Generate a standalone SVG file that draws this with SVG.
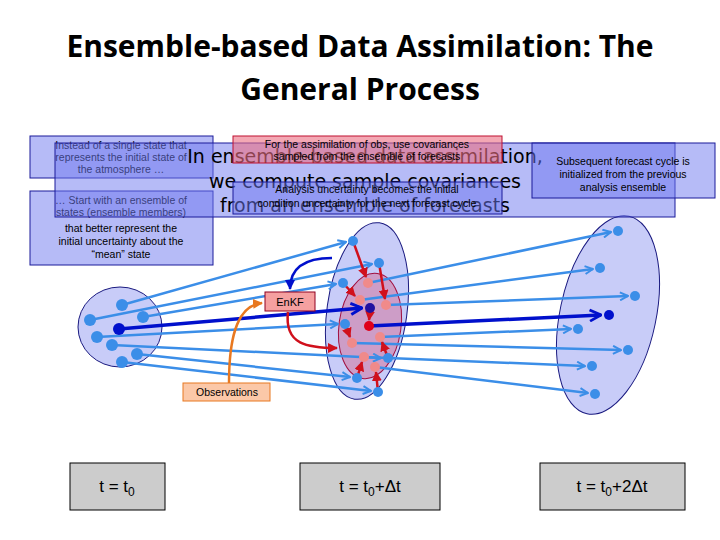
<svg xmlns="http://www.w3.org/2000/svg" width="720" height="540" viewBox="0 0 720 540">
<style>
text{font-family:"Liberation Sans",sans-serif;fill:#000}
.box{fill:rgba(110,120,240,0.5);stroke:#1a1a9a;stroke-width:1}
.sm{font-size:10.5px;text-anchor:middle}
.lb{stroke:#3b8ee8;stroke-width:2.5;fill:none;marker-end:url(#ch)}
.rd{stroke:#d0101c;stroke-width:2.5;fill:none;marker-end:url(#rh)}
.pt{fill:#3b8ee8}
.pk{fill:#f08a8a}
.tb{fill:#ccc;stroke:#000;stroke-width:1}
.tt{font-size:17px;text-anchor:middle}
.big{font-family:"DejaVu Sans",sans-serif;font-size:19px;text-anchor:middle}
</style>
<defs>
<marker id="ch" viewBox="0 0 10 10" refX="9" refY="5" markerWidth="4" markerHeight="4" orient="auto" markerUnits="strokeWidth"><path d="M1,1 L9,5 L1,9" fill="none" stroke="#3b8ee8" stroke-width="2"/></marker>
<marker id="dh" viewBox="0 0 10 10" refX="9" refY="5" markerWidth="4" markerHeight="4" orient="auto" markerUnits="strokeWidth"><path d="M1,1 L9,5 L1,9" fill="none" stroke="#0010cc" stroke-width="2"/></marker>
<marker id="rh" viewBox="0 0 10 10" refX="9" refY="5" markerWidth="4" markerHeight="4" orient="auto" markerUnits="strokeWidth"><path d="M0,0 L10,5 L0,10 z" fill="#d0101c"/></marker>
<marker id="bh" viewBox="0 0 10 10" refX="9" refY="5" markerWidth="4" markerHeight="4" orient="auto" markerUnits="strokeWidth"><path d="M0,0 L10,5 L0,10 z" fill="#0010cc"/></marker>
<marker id="oh" viewBox="0 0 10 10" refX="9" refY="5" markerWidth="4" markerHeight="4" orient="auto" markerUnits="strokeWidth"><path d="M0,0 L10,5 L0,10 z" fill="#e87820"/></marker>
</defs>
<g id="title"><text x="360" y="57" font-size="30" font-weight="bold" text-anchor="middle" style="font-family:'Open Sans','Liberation Sans',sans-serif">Ensemble-based Data Assimilation: The</text><text x="360" y="100" font-size="30" font-weight="bold" text-anchor="middle" style="font-family:'Open Sans','Liberation Sans',sans-serif">General Process</text></g>
<g id="ens0"><ellipse cx="120" cy="327" rx="42" ry="40" fill="#c8ccf8" stroke="#1a1a80"/></g>
<g id="ens1"><ellipse cx="367" cy="311" rx="40" ry="89" transform="rotate(8 367 311)" fill="#c8ccf8" stroke="#1a1a80"/><ellipse cx="370" cy="326" rx="31" ry="53" transform="rotate(8 370 326)" fill="rgba(210,100,140,0.45)" stroke="#a01040"/></g>
<g id="ens2"><ellipse cx="608" cy="315" rx="48" ry="101" transform="rotate(12 608 315)" fill="#c8ccf8" stroke="#1a1a80"/></g>
<g id="connectors">
<line class="lb" x1="122" y1="305" x2="346" y2="242"/>
<line class="lb" x1="90" y1="320" x2="372" y2="264"/>
<line class="lb" x1="143" y1="317" x2="336" y2="284"/>
<line class="lb" x1="97" y1="337" x2="338" y2="324"/>
<line class="lb" x1="112" y1="345" x2="381" y2="358"/>
<line class="lb" x1="137" y1="354" x2="350" y2="377"/>
<line class="lb" x1="122" y1="362" x2="371" y2="391"/>
<line x1="119" y1="329" x2="362" y2="308" stroke="#0010cc" stroke-width="3.5" marker-end="url(#dh)"/>
<line class="lb" x1="368" y1="283" x2="611" y2="232"/>
<line class="lb" x1="360" y1="300" x2="593" y2="269"/>
<line class="lb" x1="386" y1="305" x2="628" y2="296"/>
<line class="lb" x1="380" y1="337" x2="571" y2="329"/>
<line class="lb" x1="352" y1="343" x2="621" y2="350"/>
<line class="lb" x1="364" y1="357" x2="585" y2="366"/>
<line class="lb" x1="375" y1="367" x2="588" y2="393"/>
<line x1="369" y1="326" x2="601" y2="315" stroke="#0010cc" stroke-width="3.5" marker-end="url(#dh)"/>
<line class="rd" x1="353" y1="241" x2="366" y2="277"/>
<line class="rd" x1="379" y1="263" x2="385" y2="299"/>
<line class="rd" x1="343" y1="283" x2="355" y2="296"/>
<line class="rd" x1="345" y1="324" x2="350" y2="337"/>
<line class="rd" x1="388" y1="358" x2="382" y2="342"/>
<line class="rd" x1="357" y1="378" x2="362" y2="362"/>
<line class="rd" x1="378" y1="392" x2="376" y2="372"/>
<line class="rd" x1="370" y1="312" x2="369" y2="320"/>
<path d="M332,258 C305,258 290,268 290,289" stroke="#0010cc" stroke-width="2.5" fill="none" marker-end="url(#bh)"/>
<path d="M288,312 C284,345 308,348 337,348" stroke="#d0101c" stroke-width="2.5" fill="none" marker-end="url(#rh)"/>
<path d="M229,383 C229,330 240,305 262,303" stroke="#e87820" stroke-width="2.5" fill="none" marker-end="url(#oh)"/>
</g>
<g id="points">
<circle class="pt" cx="122" cy="305" r="6"/><circle class="pt" cx="90" cy="320" r="6"/><circle class="pt" cx="143" cy="317" r="6"/><circle class="pt" cx="97" cy="337" r="6"/><circle class="pt" cx="112" cy="345" r="6"/><circle class="pt" cx="137" cy="354" r="6"/><circle class="pt" cx="122" cy="362" r="6"/><circle cx="119" cy="329" r="6" fill="#0010cc"/>
<circle class="pt" cx="353" cy="241" r="5"/><circle class="pt" cx="379" cy="263" r="5"/><circle class="pt" cx="343" cy="283" r="5"/><circle class="pt" cx="345" cy="324" r="5"/><circle class="pt" cx="388" cy="358" r="5"/><circle class="pt" cx="357" cy="378" r="5"/><circle class="pt" cx="378" cy="392" r="5"/><circle cx="370" cy="308" r="5" fill="#2010a0"/>
<circle class="pk" cx="368" cy="283" r="5"/><circle class="pk" cx="360" cy="300" r="5"/><circle class="pk" cx="386" cy="305" r="5"/><circle class="pk" cx="380" cy="337" r="5"/><circle class="pk" cx="352" cy="343" r="5"/><circle class="pk" cx="364" cy="357" r="5"/><circle class="pk" cx="375" cy="367" r="5"/><circle cx="369" cy="326" r="5" fill="#e0001a"/>
<circle class="pt" cx="618" cy="231" r="5"/><circle class="pt" cx="600" cy="268" r="5"/><circle class="pt" cx="635" cy="296" r="5"/><circle class="pt" cx="578" cy="329" r="5"/><circle class="pt" cx="628" cy="350" r="5"/><circle class="pt" cx="592" cy="366" r="5"/><circle class="pt" cx="595" cy="394" r="5"/><circle cx="609" cy="315" r="5" fill="#0010cc"/>
</g>
<g id="enkf"><rect x="265" y="292" width="50" height="19" fill="#f5a0a0" stroke="#900020"/><text x="290" y="306" font-size="11" text-anchor="middle">EnKF</text></g>
<g id="obs"><rect x="183" y="383" width="87" height="18" fill="#fbc8a8" stroke="#e87820"/><text x="227" y="396" class="sm">Observations</text></g>
<g id="b1"><rect class="box" x="30" y="136" width="183" height="42"/><text class="sm" x="121" y="149">Instead of a single state that</text><text class="sm" x="121" y="161">represents the initial state of</text><text class="sm" x="121" y="173">the atmosphere …</text></g>
<g id="b2"><rect class="box" x="30" y="191" width="183" height="74"/><text class="sm" x="121" y="204">… Start with an ensemble of</text><text class="sm" x="121" y="216">states (ensemble members)</text><text class="sm" x="121" y="232">that better represent the</text><text class="sm" x="121" y="245">initial uncertainty about the</text><text class="sm" x="121" y="258">“mean” state</text></g>
<g id="main"><rect class="box" x="55" y="143" width="620" height="74"/><text class="big" x="365" y="163">In ensemble-based data assimilation,</text><text class="big" x="365" y="188">we compute sample covariances</text><text class="big" x="365" y="212">from an ensemble of forecasts</text></g>
<g id="b3"><rect x="233" y="136" width="269" height="27" fill="rgba(235,110,130,0.6)" stroke="#c01030"/><text class="sm" x="367" y="148">For the assimilation of obs, use covariances</text><text class="sm" x="367" y="160">sampled from the ensemble of forecasts</text></g>
<g id="b4"><rect class="box" x="233" y="182" width="269" height="32"/><text class="sm" x="367" y="193">Analysis uncertainty becomes the initial</text><text class="sm" x="367" y="207">condition uncertainty for the next forecast cycle</text></g>
<g id="b5"><rect class="box" x="532" y="143" width="183" height="55"/><text class="sm" x="623" y="165">Subsequent forecast cycle is</text><text class="sm" x="623" y="178">initialized from the previous</text><text class="sm" x="623" y="191">analysis ensemble</text></g>
<g id="t0"><rect class="tb" x="70" y="463" width="95" height="47"/><text class="tt" x="117" y="492">t = t<tspan font-size="12" dy="4">0</tspan></text></g>
<g id="t1"><rect class="tb" x="300" y="463" width="140" height="47"/><text class="tt" x="370" y="492">t = t<tspan font-size="12" dy="4">0</tspan><tspan dy="-4">+Δt</tspan></text></g>
<g id="t2"><rect class="tb" x="540" y="463" width="145" height="47"/><text class="tt" x="612" y="492">t = t<tspan font-size="12" dy="4">0</tspan><tspan dy="-4">+2Δt</tspan></text></g>
</svg>
